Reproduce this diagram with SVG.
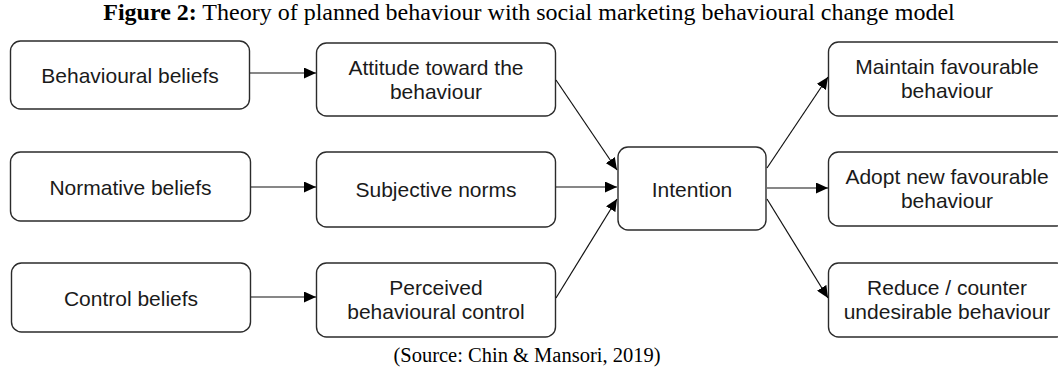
<svg xmlns="http://www.w3.org/2000/svg" width="1058" height="372" viewBox="0 0 1058 372">
  <style>
    .box { fill: #ffffff; stroke: #2b2b2b; stroke-width: 1.4; }
    .lbl { font-family: "Liberation Sans", Arial, sans-serif; font-size: 21px; fill: #1a1a1a; text-anchor: middle; }
    .edge { fill: none; stroke: #111111; stroke-width: 1.2; marker-end: url(#arrow); }
    .cap { font-family: "Liberation Serif", "Times New Roman", serif; fill: #000000; text-anchor: middle; }
  </style>
  <defs>
    <marker id="arrow" markerUnits="userSpaceOnUse" markerWidth="13" markerHeight="11" refX="12" refY="5.5" orient="auto">
      <path d="M0,0 L12,5.5 L0,11 Z" fill="#000000"/>
    </marker>
  </defs>
  <rect width="1058" height="372" fill="#ffffff"/>

  <!-- caption -->
  <text class="cap" x="529" y="20" font-size="24"><tspan font-weight="bold">Figure 2:</tspan> Theory of planned behaviour with social marketing behavioural change model</text>

  <!-- beliefs column -->
  <g id="behavioural-beliefs">
    <rect class="box" x="10.5" y="41" width="239" height="68" rx="10"/>
    <text class="lbl" x="130" y="83">Behavioural beliefs</text>
  </g>
  <g id="normative-beliefs">
    <rect class="box" x="10.5" y="152" width="240" height="69" rx="10"/>
    <text class="lbl" x="130.5" y="194.5">Normative beliefs</text>
  </g>
  <g id="control-beliefs">
    <rect class="box" x="11.5" y="263" width="239" height="69" rx="10"/>
    <text class="lbl" x="131" y="305.5">Control beliefs</text>
  </g>

  <!-- determinants column -->
  <g id="attitude">
    <rect class="box" x="316.5" y="43" width="239" height="73" rx="10"/>
    <text class="lbl" x="436" y="74.5">Attitude toward the</text>
    <text class="lbl" x="436" y="98.5">behaviour</text>
  </g>
  <g id="subjective-norms">
    <rect class="box" x="316.5" y="152" width="239" height="75" rx="10"/>
    <text class="lbl" x="436" y="197">Subjective norms</text>
  </g>
  <g id="perceived-control">
    <rect class="box" x="316.5" y="263" width="239" height="74" rx="10"/>
    <text class="lbl" x="436" y="295">Perceived</text>
    <text class="lbl" x="436" y="319">behavioural control</text>
  </g>

  <!-- intention -->
  <g id="intention">
    <rect class="box" x="618" y="147" width="148" height="83" rx="10"/>
    <text class="lbl" x="692" y="196.5">Intention</text>
  </g>

  <!-- outcomes column -->
  <g id="maintain">
    <rect class="box" x="828.5" y="42" width="238" height="74" rx="10"/>
    <text class="lbl" x="947" y="74">Maintain favourable</text>
    <text class="lbl" x="947" y="98">behaviour</text>
  </g>
  <g id="adopt">
    <rect class="box" x="828.5" y="152" width="238" height="74" rx="10"/>
    <text class="lbl" x="947" y="184">Adopt new favourable</text>
    <text class="lbl" x="947" y="208">behaviour</text>
  </g>
  <g id="reduce">
    <rect class="box" x="828.5" y="263" width="238" height="74" rx="10"/>
    <text class="lbl" x="947" y="295">Reduce / counter</text>
    <text class="lbl" x="947" y="319">undesirable behaviour</text>
  </g>

  <!-- connectors -->
  <g id="connectors">
    <line class="edge" x1="250" y1="73" x2="316" y2="73"/>
    <line class="edge" x1="251" y1="187" x2="316" y2="187"/>
    <line class="edge" x1="251" y1="297" x2="316" y2="297"/>
    <line class="edge" x1="556" y1="80" x2="617" y2="170"/>
    <line class="edge" x1="556" y1="187" x2="617" y2="187"/>
    <line class="edge" x1="556" y1="298" x2="617" y2="199"/>
    <line class="edge" x1="767" y1="168" x2="828" y2="77"/>
    <line class="edge" x1="767" y1="188" x2="828" y2="188"/>
    <line class="edge" x1="767" y1="199" x2="828" y2="298"/>
  </g>

  <!-- source line -->
  <text class="cap" x="527" y="362" font-size="20.5">(Source: Chin &amp; Mansori, 2019)</text>
</svg>
